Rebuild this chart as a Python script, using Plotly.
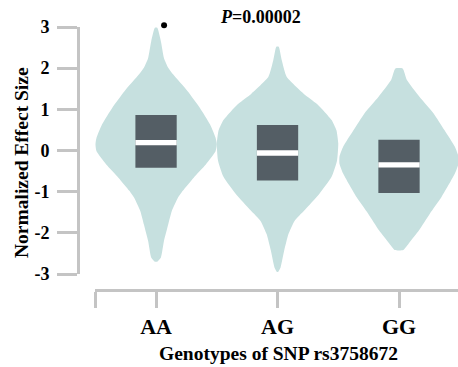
import plotly.graph_objects as go

genotypes = ["AA", "AG", "GG"]

# violin density profiles (value, relative half-width)
aa_y = [2.98, 2.65, 2.25, 2.01, 1.85, 1.44, 1.04, 0.63, 0.31, 0.15, -0.02, -0.34, -0.66, -0.98, -1.15, -1.47, -1.80, -2.20, -2.60, -2.70]
aa_d = [0.02, 0.08, 0.13, 0.20, 0.28, 0.52, 0.72, 0.89, 0.98, 1.0, 0.98, 0.82, 0.62, 0.44, 0.36, 0.26, 0.20, 0.13, 0.08, 0.02]
ag_y = [2.52, 2.19, 1.79, 1.38, 1.14, 0.98, 0.74, 0.49, 0.17, -0.24, -0.64, -1.05, -1.46, -1.71, -2.03, -2.43, -2.84, -2.95]
ag_d = [0.02, 0.07, 0.15, 0.43, 0.64, 0.75, 0.89, 0.97, 1.0, 0.98, 0.89, 0.69, 0.44, 0.28, 0.18, 0.11, 0.05, 0.01]
gg_y = [1.99, 1.71, 1.30, 0.90, 0.49, 0.09, -0.15, -0.32, -0.56, -1.13, -1.53, -1.94, -2.26, -2.42]
gg_d = [0.06, 0.13, 0.34, 0.57, 0.75, 0.92, 0.98, 0.98, 0.92, 0.70, 0.51, 0.33, 0.16, 0.07]

# box statistics
q1 = [-0.42, -0.73, -1.03]
median = [0.19, -0.06, -0.35]
q3 = [0.86, 0.62, 0.26]

outlier_x = [0.066]
outlier_y = [3.04]

p_text = "<i>P</i>=0.00002"
x_title = "Genotypes of SNP rs3758672"
y_title = "Normalized Effect Size"
y_ticks = [-3, -2, -1, 0, 1, 2, 3]

VIOLIN = "#c6e0df"
BOX = "#545e65"
AXIS = "#c4c4c4"
FONT = "Liberation Serif, Times New Roman, serif"
HALF = 0.5
BOXW = 0.34
MEDH = 0.13

W, H = 458, 367
Y_BOT_PX, Y_TOP_PX = 274, 27
EXTRA_PX = 12
units_per_px = (y_ticks[-1] - y_ticks[0]) / (Y_BOT_PX - Y_TOP_PX)

fig = go.Figure()
profiles = [(aa_y, aa_d), (ag_y, ag_d), (gg_y, gg_d)]
for i, (ys, ds) in enumerate(profiles):
    xs_r = [i + HALF * d for d in ds]
    xs_l = [i - HALF * d for d in ds]
    px = xs_r + xs_l[::-1] + [xs_r[0]]
    py = ys + ys[::-1] + [ys[0]]
    fig.add_trace(go.Scatter(x=px, y=py, mode="lines", fill="toself",
                             fillcolor=VIOLIN, line=dict(width=0, color=VIOLIN, shape="spline", smoothing=0.5),
                             hoverinfo="skip", showlegend=False))

def rect(xc, y0, y1, w):
    return [xc - w / 2, xc + w / 2, xc + w / 2, xc - w / 2, xc - w / 2], [y0, y0, y1, y1, y0]

for i in range(len(genotypes)):
    bx, by = rect(i, q1[i], q3[i], BOXW)
    fig.add_trace(go.Scatter(x=bx, y=by, mode="lines", fill="toself", fillcolor=BOX,
                             line=dict(width=0, color=BOX), hoverinfo="skip", showlegend=False))
    mx, my = rect(i, median[i] - MEDH / 2, median[i] + MEDH / 2, BOXW)
    fig.add_trace(go.Scatter(x=mx, y=my, mode="lines", fill="toself", fillcolor="white",
                             line=dict(width=0, color="white"), hoverinfo="skip", showlegend=False))

# outlier on an invisible twin axis with identical scale but extra headroom
fig.add_trace(go.Scatter(x=outlier_x, y=outlier_y, mode="markers", yaxis="y2",
                         marker=dict(color="black", size=6), cliponaxis=False, showlegend=False))

fig.update_layout(
    width=W, height=H, margin=dict(l=0, r=0, t=0, b=0),
    plot_bgcolor="rgba(0,0,0,0)", paper_bgcolor="white",
    font=dict(family=FONT, color="black"),
    xaxis=dict(domain=[95.25 / W, 1], range=[-0.5005, 2.4856], anchor="free", position=(H - 290) / H,
               tickvals=[-0.5] + list(range(len(genotypes))), ticktext=[""] + genotypes,
               showline=True, linecolor=AXIS, linewidth=3, ticks="outside", ticklen=16, tickwidth=3,
               tickcolor=AXIS, showgrid=False, zeroline=False, automargin=False,
               tickfont=dict(size=22, weight="bold", family=FONT)),
    yaxis=dict(domain=[(H - Y_BOT_PX) / H, (H - Y_TOP_PX) / H], range=[y_ticks[0], y_ticks[-1]],
               anchor="free", position=78 / W,
               tickvals=y_ticks, ticktext=[str(v) for v in y_ticks], showline=True, linecolor=AXIS,
               linewidth=3, ticks="outside", ticklen=20, tickwidth=3, tickcolor=AXIS, showgrid=False,
               zeroline=False, automargin=False, ticklabelstandoff=4,
               tickfont=dict(size=18, weight="bold", family=FONT)),
    yaxis2=dict(domain=[(H - Y_BOT_PX) / H, (H - Y_TOP_PX + EXTRA_PX) / H],
                range=[y_ticks[0], y_ticks[-1] + EXTRA_PX * units_per_px],
                anchor="x", visible=False, showgrid=False, zeroline=False, automargin=False),
    annotations=[
        dict(text=p_text, x=260 / W, y=1 - 17 / H, xref="paper", yref="paper", showarrow=False,
             xanchor="center", yanchor="middle", font=dict(size=18, weight="bold", family=FONT)),
        dict(text=x_title, x=278 / W, y=1 - 353 / H, xref="paper", yref="paper", showarrow=False,
             xanchor="center", yanchor="middle", font=dict(size=19.5, weight="bold", family=FONT)),
        dict(text=y_title, x=21 / W, y=1 - 163 / H, xref="paper", yref="paper", showarrow=False,
             xanchor="center", yanchor="middle", textangle=-90,
             font=dict(size=19.5, weight="bold", family=FONT)),
    ],
)
fig.write_html("out.html", config={"displayModeBar": False},
               post_script="document.body.style.margin='0';")
